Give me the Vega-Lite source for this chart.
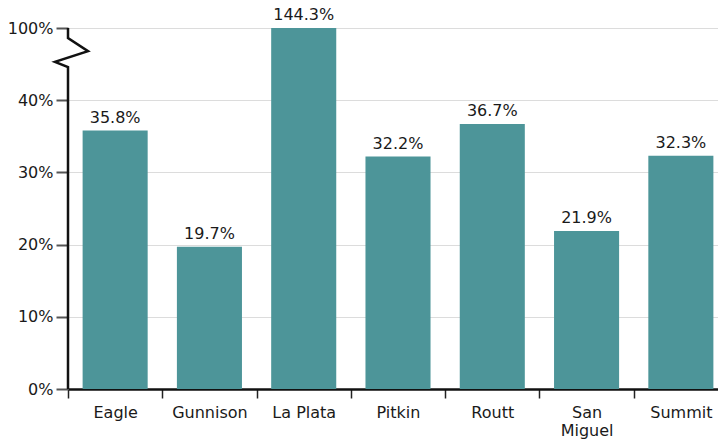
{
  "$schema": "https://vega.github.io/schema/vega-lite/v6.json",
  "width": 660,
  "height": 361,
  "autosize": {"type": "none"},
  "padding": {"left": 68, "top": 28, "right": 0, "bottom": 55},
  "background": "white",
  "config": {
    "view": {"stroke": null},
    "font": "DejaVu Sans",
    "axis": {"labelFont": "DejaVu Sans", "labelFontSize": 16, "labelColor": "#1a1a1a"}
  },
  "datasets": {
    "counties": [
      {"county": "Eagle", "value": 35.8, "label": "35.8%"},
      {"county": "Gunnison", "value": 19.7, "label": "19.7%"},
      {"county": "La Plata", "value": 144.3, "label": "144.3%"},
      {"county": "Pitkin", "value": 32.2, "label": "32.2%"},
      {"county": "Routt", "value": 36.7, "label": "36.7%"},
      {"county": "San Miguel", "value": 21.9, "label": "21.9%"},
      {"county": "Summit", "value": 32.3, "label": "32.3%"}
    ],
    "axisbreak": [
      {"bx": 0, "by": 0, "o": 1},
      {"bx": 0, "by": 44.6, "o": 2},
      {"bx": -1.97, "by": 45.3, "o": 3},
      {"bx": 3.03, "by": 46.8, "o": 4},
      {"bx": 0, "by": 48.6, "o": 5},
      {"bx": 0, "by": 50, "o": 6}
    ]
  },
  "layer": [
    {
      "data": {"name": "counties"},
      "layer": [
        {
          "mark": {"type": "bar", "color": "#4d9599", "width": {"band": 0.69}},
          "encoding": {
            "x": {
              "field": "county", "type": "nominal", "sort": null,
              "scale": {"paddingInner": 0, "paddingOuter": 0},
              "axis": {
                "title": null, "labelAngle": 0, "tickBand": "extent",
                "domainColor": "#111", "domainWidth": 2.5,
                "tickColor": "#222", "tickSize": 9, "tickWidth": 1.5,
                "labelPadding": 6,
                "labelExpr": "datum.label == 'San Miguel' ? ['San', 'Miguel'] : datum.label"
              }
            },
            "y": {
              "field": "value", "type": "quantitative",
              "scale": {"domain": [0, 50], "clamp": true, "nice": false},
              "axis": {
                "title": null, "values": [0, 10, 20, 30, 40, 50],
                "domain": false, "gridColor": "#dcdcdc", "gridWidth": 1,
                "tickColor": "#555", "tickSize": 12, "tickWidth": 2,
                "labelPadding": 3,
                "labelExpr": "datum.value == 50 ? '100%' : datum.value + '%'"
              }
            }
          }
        },
        {
          "mark": {"type": "text", "baseline": "bottom", "dy": -5, "fontSize": 16, "color": "#1a1a1a"},
          "encoding": {
            "x": {"field": "county", "type": "nominal", "sort": null},
            "y": {"field": "value", "type": "quantitative"},
            "text": {"field": "label"}
          }
        }
      ]
    },
    {
      "mark": {"type": "rule", "color": "#111", "strokeWidth": 2.5},
      "encoding": {"y": {"datum": 50, "type": "quantitative"}}
    },
    {
      "data": {"name": "axisbreak"},
      "mark": {"type": "line", "color": "#111", "strokeWidth": 2.5, "clip": false},
      "encoding": {
        "x": {"field": "bx", "type": "quantitative", "scale": {"domain": [0, 100], "nice": false, "zero": false}, "axis": null},
        "y": {"field": "by", "type": "quantitative"},
        "order": {"field": "o"}
      }
    }
  ],
  "resolve": {"scale": {"x": "independent"}}
}
